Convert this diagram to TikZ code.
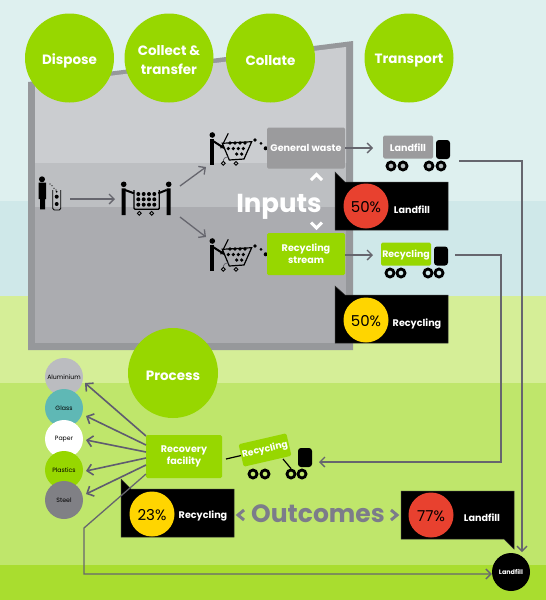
\documentclass[tikz,border=0pt]{standalone}
\usepackage{fontspec}
\setmainfont{Poppins}
\usetikzlibrary{arrows.meta,shapes.geometric}
\definecolor{bgA}{HTML}{DEF0EF}
\definecolor{bgB}{HTML}{CFE8E9}
\definecolor{bgC}{HTML}{D5EE97}
\definecolor{bgD}{HTML}{BFE66B}
\definecolor{bgE}{HTML}{A9DD2F}
\definecolor{panelA}{HTML}{CBCDD0}
\definecolor{panelB}{HTML}{BDBFC2}
\definecolor{panelC}{HTML}{ABACB0}
\definecolor{panelEdge}{HTML}{96989B}
\definecolor{leaf}{HTML}{97D700}
\definecolor{boxgrey}{HTML}{9B9B9D}
\definecolor{conn}{HTML}{66666E}
\definecolor{connV}{HTML}{5F5C70}
\definecolor{redc}{HTML}{E8412F}
\definecolor{yelc}{HTML}{FFD500}
\definecolor{outc}{HTML}{7C7C8A}
\definecolor{glassc}{HTML}{5FB8B5}
\definecolor{steelc}{HTML}{808085}
\definecolor{aluc}{HTML}{BBBCC0}
\newcommand{\dnlbl}[1]{\raisebox{-1pt}[\height][\depth]{#1}}
\newcommand{\dnstage}[1]{\raisebox{-2.5pt}[\height][\depth]{#1}}
\tikzset{
  x=1pt,y=-1pt,
  stage/.style={circle,fill=leaf,minimum size=#1,inner sep=0,text=white,font=\bfseries\fontsize{13.5}{19}\selectfont,align=center},
  stagebox/.style={rectangle,rounded corners=1.5,fill=#1,inner sep=0,text=white,font=\bfseries\fontsize{9.6}{12}\selectfont,align=center},
  cab/.style={rectangle,rounded corners=3,fill=black,minimum width=14,minimum height=19,inner sep=0},
  wheel/.style={circle,draw=black,line width=2.8,fill=#1,minimum size=8,inner sep=0},
  callout/.style={fill=black,draw=black!80!white,line width=.5},
  pct/.style={circle,fill=#1,minimum size=45,inner sep=0,text=black,font=\fontsize{15}{17}\selectfont},
  callouttext/.style={text=white,font=\bfseries\fontsize{9.6}{11}\selectfont,inner sep=0},
  mat/.style={circle,fill=#1,minimum size=38,inner sep=0,text=black,font=\fontsize{6.2}{7}\selectfont},
  arr/.style={draw=conn,line width=1.3,-{Straight Barb[length=5,width=10,line width=1.3]}},
  arrV/.style={draw=connV,line width=1.6,-{Straight Barb[length=5.5,width=11,line width=1.6]}},
  bigtext/.style={inner sep=0,font=\bfseries\fontsize{#1}{#1}\selectfont},
  chev/.style={draw=#1,line width=3},
  pics/cart/.style={code={
    \fill (0,6) rectangle (4,32);
    \fill (2.3,2) circle (2.8);
    \draw[line width=2] (3,8) -- (14,15);
    \draw[line width=1.1] (10.7,15.3) -- (18.3,.3);
    \draw[line width=1.2] (12.3,10.3) -- (41.7,8.7) -- (34,26) -- (19.3,27) -- cycle;
    \foreach \px in {20,25,30,35}{\fill (\px,10) circle (1.8);}
    \foreach \px in {18.3,23.3,28.3,33.3}{\fill (\px,15.5) circle (1.8);}
    \foreach \px in {26.7,31.7}{\fill (\px,21) circle (1.8);}
    \draw[line width=.8,conn] (13.3,29) .. controls (13.3,25) and (15,24) .. (19,24);
    \draw[line width=.9] (13.3,30.3) circle (1.9) (26,30.3) circle (1.9);
    \fill (45,7) circle (1.8) (51,10.3) circle (1.5) (55.7,15.3) circle (2);
  }},
  pics/collector/.style={code={
    \fill (.7,4.3) rectangle (4.6,31) (45.7,4.3) rectangle (49.7,31);
    \fill (2.7,.3) circle (2.8) (47.7,.3) circle (2.8);
    \draw[line width=2] (4,6) -- (13,9.3) (45.7,6) -- (37.3,9.3);
    \draw[line width=1.3,rounded corners=1] (13,6) -- (13,25.3) -- (38.3,25.3) -- (38.3,6);
    \foreach \py in {10,15.3,20.7}{\foreach \px in {17.3,22.7,28,33.3}{\fill (\px,\py) circle (2);}}
    \draw[line width=.9] (18.3,29.3) circle (1.9) (30.7,29.3) circle (1.9);
  }},
  pics/person/.style={code={
    \fill (4,.3) circle (3);
    \fill (.7,3.7) rectangle (8,20) (2,20) rectangle (7,30.3);
    \draw[line width=.9,rounded corners=1.5] (14.7,11) -- (14.7,31) -- (22.7,31) -- (22.7,11);
    \fill (18.7,17.7) circle (2) (18.7,25) circle (2) (18.7,12.7) circle (1);
    \fill (12,5) circle (.6) (14,6.7) circle (.6) (16,9.3) circle (.6) (18,11) circle (.6);
  }},
}
\begin{document}
\begin{tikzpicture}
\useasboundingbox (0,0) rectangle (546,600);
% background bands
\fill[bgA] (0,0) rectangle (546,201);
\fill[bgB] (0,201) rectangle (546,296);
\fill[bgC] (0,296) rectangle (546,383);
\fill[bgD] (0,383) rectangle (546,565);
\fill[bgE] (0,565) rectangle (546,600);
% panel
\fill[panelEdge] (28,82) -- (353,41) -- (353,350) -- (28,350) -- cycle;
\fill[panelA] (35,85) -- (346,47) -- (346,163) -- (35,163) -- cycle;
\fill[panelB] (35,163) rectangle (346,207);
\fill[panelC] (35,207) rectangle (346,343);
% stages
\node[stage=89] (dispose) at (69.5,58) {\dnstage{Dispose}};
\node[stage=89] (collect) at (169,58) {\raisebox{-2pt}[\height][\depth]{\shortstack{Collect \&\\[5pt]transfer}}};
\node[stage=89] (collate) at (270.5,58) {\dnstage{Collate}};
\node[stage=89] (transport) at (409,58) {\dnstage{Transport}};
\node[stage=90] (process) at (173,373) {\dnstage{Process}};
% icons
\pic at (38,179) {person};
\pic at (121,184) {collector};
\pic at (210,133) {cart};
\pic at (210,239) {cart};
\coordinate (personR) at (70,199);
\coordinate (collL) at (115,199);
\coordinate (collU) at (180,186);
\coordinate (collD) at (180,217);
\coordinate (cartU) at (206,167);
\coordinate (cartD) at (206,237);
\draw[arr] (personR) -- (collL);
\draw[arr] (collU) -- (cartU);
\draw[arr] (collD) -- (cartD);
% waste boxes
\node[stagebox=boxgrey,minimum width=78,minimum height=41] (gw) at (306,148) {General waste};
\node[stagebox=leaf,minimum width=78,minimum height=42] (rs) at (306,254) {Recycling\\stream};
% trucks
\node[stagebox=boxgrey,minimum width=50,minimum height=23,font=\bfseries\fontsize{9.6}{11}\selectfont] (tl) at (408,147) {\dnlbl{Landfill}};
\node[cab] (tlc) at (443,149.5) {};
\foreach \wx [count=\i] in {391,403,429,441}{\node[wheel=boxgrey!60!bgA] (tlw\i) at (\wx,166) {};}
\node[stagebox=leaf,minimum width=50,minimum height=23,font=\bfseries\fontsize{9.4}{11}\selectfont] (tr) at (406,254) {\dnlbl{Recycling}};
\node[cab] (trc) at (441,256) {};
\foreach \wx [count=\i] in {390,401,428,439}{\node[wheel=bgB] (trw\i) at (\wx,273) {};}
\coordinate (tlin) at (373,148);
\coordinate (trin) at (373,255);
\draw[arr] (gw.east |- tlin) -- (tlin);
\draw[arr] (rs.east |- trin) -- (trin);
% inputs
\node[bigtext=26,text=white] (inputs) at (279,207) {Inputs};
\draw[chev=white] (311,180) -- (316.5,174.5) -- (322,180);
\draw[chev=white] (311,222.5) -- (316.5,228) -- (322,222.5);
% callouts
\draw[callout] (335,172) -- (345,182) -- (448,182) -- (448,230) -- (335,230) -- cycle;
\node[pct=redc] (p1) at (366,206) {\dnlbl{50\%}};
\node[callouttext] (t1) at (412,209) {\dnlbl{Landfill}};
\draw[callout] (335,286) -- (345,295) -- (448,295) -- (448,343) -- (335,343) -- cycle;
\node[pct=yelc] (p2) at (366,320) {\dnlbl{50\%}};
\node[callouttext] (t2) at (417,322.5) {\dnlbl{Recycling}};
\draw[callout] (121,479) -- (131,489) -- (234,489) -- (234,537) -- (121,537) -- cycle;
\node[pct=yelc] (p3) at (152,514) {\dnlbl{23\%}};
\node[callouttext] (t3) at (203,514.5) {\dnlbl{Recycling}};
\draw[callout] (401,491) -- (514,491) -- (514,549) -- (504,539) -- (401,539) -- cycle;
\node[pct=redc] (p4) at (431,515) {\dnlbl{77\%}};
\node[callouttext] (t4) at (482,517) {\dnlbl{Landfill}};
% outcomes
\node[bigtext=25,text=outc] (outcomes) at (318,514) {Outcomes};
\draw[chev=outc] (244,510) -- (238,515) -- (244,520);
\draw[chev=outc] (391,510) -- (397,515) -- (391,520);
% materials
\node[mat=aluc] (al) at (64,377) {Aluminium};
\node[mat=glassc] (gl) at (64,408) {Glass};
\node[mat=white] (pa) at (64,439) {Paper};
\node[mat=leaf] (pl) at (64,470) {Plastics};
\node[mat=steelc] (st) at (64,500) {Steel};
% recovery
\node[stagebox=leaf,minimum width=76,minimum height=43] (rf) at (184,456.5) {Recovery\\facility};
\coordinate (a1s) at (146,436); \coordinate (a1e) at (85,383);
\coordinate (a2s) at (146,445); \coordinate (a2e) at (86,416);
\coordinate (a3s) at (146,452); \coordinate (a3e) at (86,440);
\coordinate (a4s) at (146,458); \coordinate (a4e) at (86,471);
\coordinate (a5s) at (146,465); \coordinate (a5e) at (86,494);
\draw[arrV] (a1s) -- (a1e);
\draw[arrV] (a2s) -- (a2e);
\draw[arrV] (a3s) -- (a3e);
\draw[arrV] (a4s) -- (a4e);
\draw[arrV] (a5s) -- (a5e);
% tilted truck
\node[stagebox=leaf,minimum width=49,minimum height=23,rotate=13,font=\bfseries\fontsize{9.2}{11}\selectfont] (tp) at (265,450) {Recycling};
\node[cab] (tpc) at (305,457.5) {};
\foreach \wx [count=\i] in {253,265,291,302}{\node[wheel=bgD] (tpw\i) at (\wx,474) {};}
\coordinate (axleL) at (226,459);
\coordinate (axleR) at (283,459);
\draw[line width=1.2,black] (axleL) -- (tp.west);
\draw[line width=1.2,black] (axleR) -- (tpw3.north);
% landfill end
\node[circle,fill=black,minimum size=38,inner sep=0,text=white,font=\bfseries\fontsize{6.4}{7}\selectfont] (lf) at (511,572) {Landfill};
% long connectors
\coordinate (tlout) at (459,161);
\coordinate (trout) at (455,255);
\coordinate (tpin) at (319,462);
\coordinate (rfout) at (146,474);
\draw[arr] (trout) -- (501,255) -- (501,462) -- (tpin);
\draw[arr] (tlout) -- (522,161) -- (522,552);
\draw[arr] (rfout) -- (84,528) -- (84,574) -- (lf.west |- 0,574);
\end{tikzpicture}
\end{document}
